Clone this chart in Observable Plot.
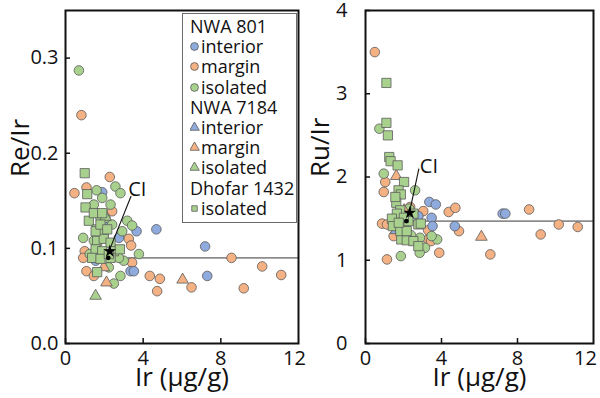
<!DOCTYPE html>
<html>
<head>
<meta charset="utf-8">
<script src="https://cdn.jsdelivr.net/npm/d3@7"></script>
<script src="https://cdn.jsdelivr.net/npm/@observablehq/plot@0.6"></script>
<style>
  html, body { margin: 0; padding: 0; background: white; }
  #wrap { position: relative; width: 600px; height: 398px; display: flex; font-family: "Open Sans", sans-serif; }
  #wrap svg { display: block; }
  .legend { position: absolute; left: 182px; top: 13px; width: 106px; height: 206px; border: 1.5px solid #6b6b6b; background: white; padding: 2px 0 0 7px; box-sizing: content-box; font-size: 18px; color: #111; }
  .legend .row { height: 20.2px; line-height: 20.2px; display: flex; align-items: center; white-space: nowrap; }
  .legend .row svg { margin-right: 1px; }
</style>
</head>
<body>
<div id="wrap"></div>
<script>
// ---------- data: [Ir (µg/g), ratio] ----------
const irTicks = [0, 4, 8, 12];
const reTicks = [0, 0.1, 0.2, 0.3];
const ruTicks = [0, 1, 2, 3, 4];

// Re/Ir panel
const re801interior = [[1.89,0.159],[3.66,0.118],[4.68,0.120],[7.19,0.102],[7.30,0.071],[3.35,0.076],[3.52,0.076],[2.75,0.111],[1.55,0.087],[2.11,0.126]];
const re801margin = [[0.46,0.158],[0.82,0.240],[1.08,0.164],[2.28,0.175],[0.99,0.097],[0.91,0.090],[1.08,0.076],[1.46,0.071],[3.26,0.110],[3.38,0.103],[3.43,0.085],[4.34,0.071],[4.86,0.068],[4.72,0.055],[6.49,0.059],[8.55,0.090],[9.18,0.058],[10.13,0.081],[11.11,0.072],[2.40,0.139]];
const re801isolated = [[0.69,0.287],[1.60,0.161],[2.57,0.165],[2.83,0.158],[0.91,0.111],[1.46,0.146],[2.32,0.146],[1.89,0.153],[1.80,0.132],[2.40,0.125],[3.18,0.129],[3.43,0.124],[2.92,0.118],[3.78,0.094],[3.00,0.087],[2.83,0.071],[2.49,0.063],[2.23,0.080],[1.46,0.108],[1.25,0.094],[2.75,0.090],[2.06,0.132]];
const re7184interior = [[1.60,0.089]];
const re7184margin = [[1.97,0.080],[2.11,0.064],[6.03,0.067]];
const re7184isolated = [[1.55,0.050],[2.06,0.133]];
const reDhofar1432isolated = [[0.99,0.179],[1.12,0.157],[1.03,0.143],[1.20,0.129],[1.63,0.120],[1.46,0.137],[1.89,0.137],[1.97,0.118],[1.63,0.108],[1.97,0.110],[2.32,0.106],[1.55,0.099],[1.89,0.097],[2.49,0.097],[2.80,0.099],[1.37,0.090],[2.32,0.090],[1.80,0.089],[1.63,0.075],[2.23,0.094],[1.55,0.118],[1.80,0.125],[2.15,0.120]];

// Ru/Ir panel
const ru801interior = [[3.36,1.70],[3.70,1.67],[3.48,1.51],[3.53,1.41],[4.70,1.41],[7.22,1.56],[7.36,1.56],[2.78,1.53]];
const ru801margin = [[0.49,3.50],[1.04,1.94],[0.96,1.82],[0.87,1.44],[1.13,1.43],[1.13,1.01],[1.48,1.29],[3.04,1.59],[3.30,1.36],[3.30,1.25],[3.45,1.23],[3.88,1.09],[4.38,1.58],[4.73,1.63],[4.92,1.35],[6.57,1.07],[8.61,1.61],[9.22,1.31],[10.17,1.43],[11.17,1.40],[2.35,1.64]];
const ru801isolated = [[0.73,2.58],[0.96,2.04],[2.61,1.84],[1.65,1.47],[1.86,1.05],[2.92,1.13],[3.13,1.15],[3.77,1.25],[3.48,1.29],[2.87,1.27],[2.30,1.62],[2.00,1.42],[1.90,1.32],[2.85,1.09],[2.40,1.30]];
const ru7184interior = [[1.60,1.36]];
const ru7184margin = [[1.62,2.01],[2.03,1.60],[6.10,1.28]];
const ru7184isolated = [[2.10,1.50]];
const ruDhofar1432isolated = [[1.10,3.13],[1.10,2.65],[1.18,2.50],[1.25,2.24],[1.32,2.19],[1.69,2.14],[2.03,1.94],[1.74,1.84],[1.86,1.79],[1.62,1.69],[1.57,1.76],[1.83,1.60],[1.65,1.56],[1.39,1.50],[1.44,1.41],[1.88,1.25],[2.17,1.24],[2.52,1.23],[2.78,1.17],[2.52,1.56],[2.78,1.43],[2.26,1.47],[1.83,1.35],[2.17,1.35],[2.02,1.51],[2.91,1.44],[1.75,1.45]];

// CI chondrite reference: [Ir, ratio]
const ciRe = {dot: [2.20, 0.090], star: [2.28, 0.097], label: [3.70, 0.162], leader: [[3.38, 0.155], [2.32, 0.101]]};
const ciRu = {dot: [2.15, 1.47], star: [2.33, 1.57], label: [3.34, 2.13], leader: [[2.81, 2.10], [2.33, 1.59]]};

const colors = {interior: "#8FAADC", margin: "#F4B183", isolated: "#A9D18E"};

function panel({groups, yDomain, yTicks, yFormat, yLabel, marginRight, yTickPadding, lastTickDx, ci}) {
  const dotMarks = groups.map(g => Plot.dot(g.data, {
    x: d => d[0], y: d => d[1], symbol: g.symbol, fill: g.color,
    stroke: "#5a5a5a", strokeWidth: 0.8, r: g.symbol === "circle" ? 4.8 : g.symbol === "triangle" ? 4.3 : 5.2
  }));
  return Plot.plot({
    width: 300, height: 398,
    marginLeft: 65, marginRight, marginTop: 10, marginBottom: 55,
    style: {fontFamily: "Open Sans, sans-serif", fontSize: "20px", color: "#111", background: "transparent", overflow: "visible"},
    x: {domain: [0, 12]},
    y: {domain: yDomain},
    marks: [
      Plot.ruleY([ci.dot[1]], {x1: ci.dot[0], x2: 12, stroke: "#8c8c8c", strokeWidth: 1.6}),
      ...dotMarks,
      Plot.link([ci.leader], {x1: d => d[0][0], y1: d => d[0][1], x2: d => d[1][0], y2: d => d[1][1], stroke: "#111", strokeWidth: 1.1}),
      Plot.dot([ci.star], {x: d => d[0], y: d => d[1], symbol: "star", fill: "#000", r: 4}),
      Plot.dot([ci.dot], {x: d => d[0], y: d => d[1], fill: "#000", r: 2.4}),
      Plot.text([ci.label], {x: d => d[0], y: d => d[1], text: () => "CI", fontSize: 20, fill: "#111"}),
      Plot.frame({stroke: "#111", strokeWidth: 2}),
      Plot.axisX({ticks: irTicks.slice(0, -1), tickSize: -5, tickPadding: 12, strokeWidth: 1.5, fontSize: 20, label: null}),
      Plot.axisX({ticks: irTicks.slice(-1), tickSize: 0, tickPadding: 7, dx: lastTickDx, fontSize: 20, label: null}),
      Plot.axisY({ticks: yTicks, tickFormat: yFormat, tickSize: -5, tickPadding: yTickPadding, strokeWidth: 1.5, fontSize: 20, label: null}),
      Plot.text(["Ir (µg/g)"], {frameAnchor: "bottom", dy: 42, fontSize: 26, fill: "#111"}),
      Plot.text([yLabel], {frameAnchor: "left", dx: -45, rotate: -90, fontSize: 26, fill: "#111"})
    ]
  });
}

const wrap = document.getElementById("wrap");
wrap.appendChild(panel({
  groups: [
    {data: re801margin, symbol: "circle", color: colors.margin},
    {data: re801interior, symbol: "circle", color: colors.interior},
    {data: re801isolated, symbol: "circle", color: colors.isolated},
    {data: re7184interior, symbol: "triangle", color: colors.interior},
    {data: re7184margin, symbol: "triangle", color: colors.margin},
    {data: re7184isolated, symbol: "triangle", color: colors.isolated},
    {data: reDhofar1432isolated, symbol: "square", color: colors.isolated}
  ],
  yDomain: [0, 0.35], yTicks: reTicks, yFormat: d3.format(".1f"), yLabel: "Re/Ir",
  marginRight: 2, yTickPadding: 12, lastTickDx: -4, ci: ciRe
}));
wrap.appendChild(panel({
  groups: [
    {data: ru801margin, symbol: "circle", color: colors.margin},
    {data: ru801interior, symbol: "circle", color: colors.interior},
    {data: ru801isolated, symbol: "circle", color: colors.isolated},
    {data: ru7184interior, symbol: "triangle", color: colors.interior},
    {data: ru7184margin, symbol: "triangle", color: colors.margin},
    {data: ru7184isolated, symbol: "triangle", color: colors.isolated},
    {data: ruDhofar1432isolated, symbol: "square", color: colors.isolated}
  ],
  yDomain: [0, 4], yTicks: ruTicks, yFormat: d3.format("d"), yLabel: "Ru/Ir",
  marginRight: 7, yTickPadding: 23, lastTickDx: -8, ci: ciRu
}));

// legend
const legendRows = [
  {head: "NWA 801"},
  {shape: "circle", color: colors.interior, text: "interior"},
  {shape: "circle", color: colors.margin, text: "margin"},
  {shape: "circle", color: colors.isolated, text: "isolated"},
  {head: "NWA 7184"},
  {shape: "triangle", color: colors.interior, text: "interior"},
  {shape: "triangle", color: colors.margin, text: "margin"},
  {shape: "triangle", color: colors.isolated, text: "isolated"},
  {head: "Dhofar 1432"},
  {shape: "square", color: colors.isolated, text: "isolated"}
];
const lg = document.createElement("div");
lg.className = "legend";
for (const r of legendRows) {
  const row = document.createElement("div");
  row.className = "row";
  if (r.head) {
    row.textContent = r.head;
  } else {
    const sym = d3.create("svg").attr("width", 10).attr("height", 10);
    sym.append("path")
      .attr("transform", "translate(4.5,5.5)")
      .attr("d", d3.symbol(r.shape === "circle" ? d3.symbolCircle : r.shape === "triangle" ? d3.symbolTriangle : d3.symbolSquare, r.shape === "square" ? 30 : r.shape === "triangle" ? 40 : 48)())
      .attr("fill", r.color).attr("stroke", "#5a5a5a").attr("stroke-width", 0.8);
    row.appendChild(sym.node());
    row.appendChild(document.createTextNode(r.text));
  }
  lg.appendChild(row);
}
wrap.appendChild(lg);
</script>
</body>
</html>
